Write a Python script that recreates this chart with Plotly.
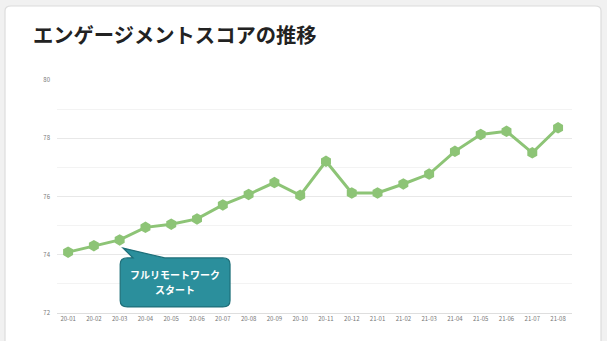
import plotly.graph_objects as go

# Monthly engagement score
months = ["20-01", "20-02", "20-03", "20-04", "20-05", "20-06", "20-07", "20-08",
          "20-09", "20-10", "20-11", "20-12", "21-01", "21-02", "21-03", "21-04",
          "21-05", "21-06", "21-07", "21-08"]
scores = [74.09, 74.31, 74.51, 74.94, 75.05, 75.23, 75.71, 76.07,
          76.48, 76.04, 77.21, 76.12, 76.12, 76.43, 76.77, 77.55,
          78.13, 78.24, 77.50, 78.36]
y_ticks = [72, 74, 76, 78, 80]

title_text = "エンゲージメントスコアの推移"
callout_lines = ["フルリモートワーク", "スタート"]
callout_index = 2  # 20-03

GREEN = "#8dc476"
TEAL = "#2b8f9c"
TEAL_EDGE = "#1e6f79"

W, H = 607, 341
L, R, T, B = 57, 35, 80, 28
plot_w = W - L - R
plot_h = H - T - B


def px_to_paper(px, py):
    return (px - L) / plot_w, (H - B - py) / plot_h


def rounded_rect_path(x0, y0, x1, y1, rx, ry, notch=None):
    # rounded rectangle, optionally with a pointer notch on the top edge
    parts = [f"M{x0 + rx},{y1}"]
    if notch is not None:
        (nx0, tipx, tipy, nx1) = notch
        parts += [f"L{nx0},{y1}", f"L{tipx},{tipy}", f"L{nx1},{y1}"]
    parts += [
        f"L{x1 - rx},{y1}", f"Q{x1},{y1} {x1},{y1 - ry}",
        f"L{x1},{y0 + ry}", f"Q{x1},{y0} {x1 - rx},{y0}",
        f"L{x0 + rx},{y0}", f"Q{x0},{y0} {x0},{y0 + ry}",
        f"L{x0},{y1 - ry}", f"Q{x0},{y1} {x0 + rx},{y1}", "Z",
    ]
    return " ".join(parts)


x_idx = list(range(len(months)))

fig = go.Figure()
fig.add_trace(go.Scatter(
    x=x_idx, y=scores, mode="lines+markers",
    line=dict(color=GREEN, width=3),
    marker=dict(symbol="hexagon", size=11.5, color=GREEN),
    hoverinfo="x+y", showlegend=False,
))

# white card behind the chart
cx0, cy0 = px_to_paper(5, 6)
cx1, cy1 = px_to_paper(601, 350)
card_path = rounded_rect_path(cx0, cy1, cx1, cy0, 0.012, 0.02)
fig.add_shape(type="path", path=card_path, xref="paper", yref="paper",
              fillcolor="white", line=dict(color="#dcdcdc", width=1.2),
              layer="below")

# callout box pointing at the remote-work start month
px_, py_ = x_idx[callout_index], scores[callout_index]
bx0, bx1 = px_ + 0.02, px_ + 4.28
by0, by1 = py_ - 2.30, py_ - 0.62
tip = (px_ + 0.13, py_ - 0.28)
notch = (px_ + 0.52, tip[0], tip[1], px_ + 1.75)
fig.add_shape(type="path",
              path=rounded_rect_path(bx0, by0, bx1, by1, 0.28, 0.22, notch),
              xref="x", yref="y", fillcolor=TEAL,
              line=dict(color=TEAL_EDGE, width=1.2), layer="above")
mid_x, mid_y = (bx0 + bx1) / 2, (by0 + by1) / 2
line_gap = 0.52
for k, line in enumerate(callout_lines):
    fig.add_annotation(x=mid_x, y=mid_y + line_gap / 2 - k * line_gap,
                       xref="x", yref="y", text=f"<b>{line}</b>", showarrow=False,
                       font=dict(family="Noto Sans CJK JP", size=10, color="white"),
                       align="center", yanchor="middle")

# chart title
tx, ty = px_to_paper(31, 34)
fig.add_annotation(x=tx, y=ty, xref="paper", yref="paper", xanchor="left",
                   yanchor="middle", text=f"<b>{title_text}</b>", showarrow=False,
                   font=dict(family="Noto Sans CJK JP", size=20.3, color="#222222"))

fig.update_layout(
    width=W, height=H,
    margin=dict(l=L, r=R, t=T, b=B),
    paper_bgcolor="#f1f1f1", plot_bgcolor="rgba(0,0,0,0)",
    font=dict(family="Noto Sans CJK JP"),
    xaxis=dict(
        range=[-0.43, 19.54], tickmode="array", tickvals=x_idx, ticktext=months,
        showgrid=False, zeroline=False, showline=True, linecolor="#dedede",
        linewidth=1, ticks="", tickfont=dict(size=6, color="#777777"),
    ),
    yaxis=dict(
        range=[72, 80], tickmode="array", tickvals=y_ticks,
        showgrid=True, gridcolor="#e8e8e8", gridwidth=1, zeroline=False,
        ticks="", ticklabelstandoff=6, tickfont=dict(size=6, color="#777777"),
        minor=dict(dtick=1, tick0=72, showgrid=True, gridcolor="#f3f3f3", gridwidth=1),
    ),
)

fig.write_html("out.html")
